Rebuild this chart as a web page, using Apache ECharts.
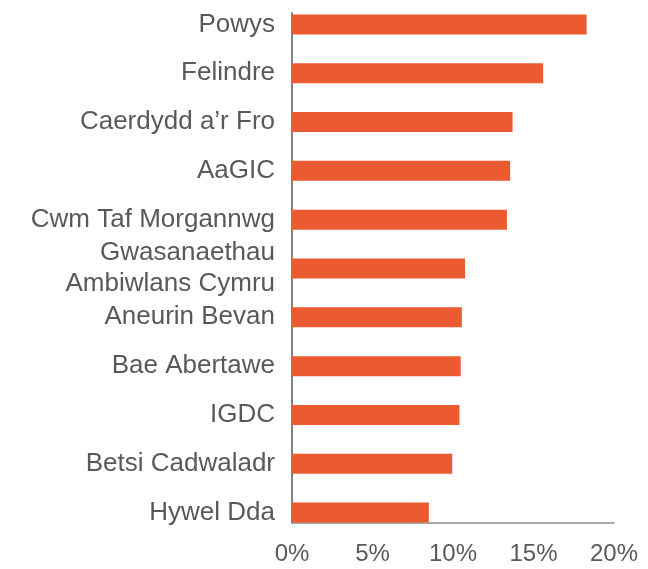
<!DOCTYPE html>
<html>
<head>
<meta charset="utf-8">
<script src="https://cdn.jsdelivr.net/npm/echarts@6/dist/echarts.min.js"></script>
<style>
  html, body { margin: 0; padding: 0; background: #fff; }
  #chart { width: 648px; height: 569px; }
</style>
</head>
<body>
<div id="chart"></div>
<script>
// 类别（从上到下）
var categories = [
    'Powys',
    'Felindre',
    'Caerdydd a\u2019r Fro',
    'AaGIC',
    'Cwm Taf Morgannwg',
    'Gwasanaethau\nAmbiwlans Cymru',
    'Aneurin Bevan',
    'Bae Abertawe',
    'IGDC',
    'Betsi Cadwaladr',
    'Hywel Dda'
];
// 百分比数值
var values = [18.3, 15.6, 13.7, 13.55, 13.35, 10.75, 10.55, 10.48, 10.4, 9.95, 8.5];

var textColor = '#595959';
var barColor = '#EB5A31';
var fontFamily = "'Liberation Sans', Arial, sans-serif";

var myChart = echarts.init(document.getElementById('chart'));

var option = {
    animation: false,
    textStyle: { fontFamily: fontFamily },
    grid: [
        // 柱子所在网格
        { left: 292, right: 34, top: -2, height: 539 },
        // 坐标轴网格（轴线只到柱子边缘）
        { left: 292, right: 34, top: 12.7, bottom: 46.3 }
    ],
    xAxis: [
        {
            gridIndex: 0,
            type: 'value',
            min: 0,
            max: 20,
            show: false
        },
        {
            gridIndex: 1,
            type: 'value',
            min: 0,
            max: 20,
            interval: 5,
            axisLine: { show: true, lineStyle: { color: '#8c8c8c', width: 1.5 } },
            axisTick: { show: false },
            splitLine: { show: false },
            axisLabel: {
                formatter: '{value}%',
                color: textColor,
                fontSize: 24,
                margin: 20,
                fontFamily: fontFamily
            }
        }
    ],
    yAxis: [
        {
            gridIndex: 0,
            type: 'category',
            data: categories,
            inverse: true,
            axisLine: { show: false },
            axisTick: { show: false },
            axisLabel: {
                color: textColor,
                fontSize: 26,
                lineHeight: 31,
                margin: 17,
                padding: [0, 0, 3, 0],
                fontFamily: fontFamily
            }
        },
        {
            gridIndex: 1,
            type: 'value',
            min: 0,
            max: 1,
            axisLine: { show: true, lineStyle: { color: '#595959', width: 1.5 } },
            axisTick: { show: false },
            axisLabel: { show: false },
            splitLine: { show: false }
        }
    ],
    series: [{
        type: 'bar',
        xAxisIndex: 0,
        yAxisIndex: 0,
        data: values,
        barWidth: 20,
        itemStyle: { color: barColor }
    }]
};

myChart.setOption(option);
</script>
</body>
</html>
